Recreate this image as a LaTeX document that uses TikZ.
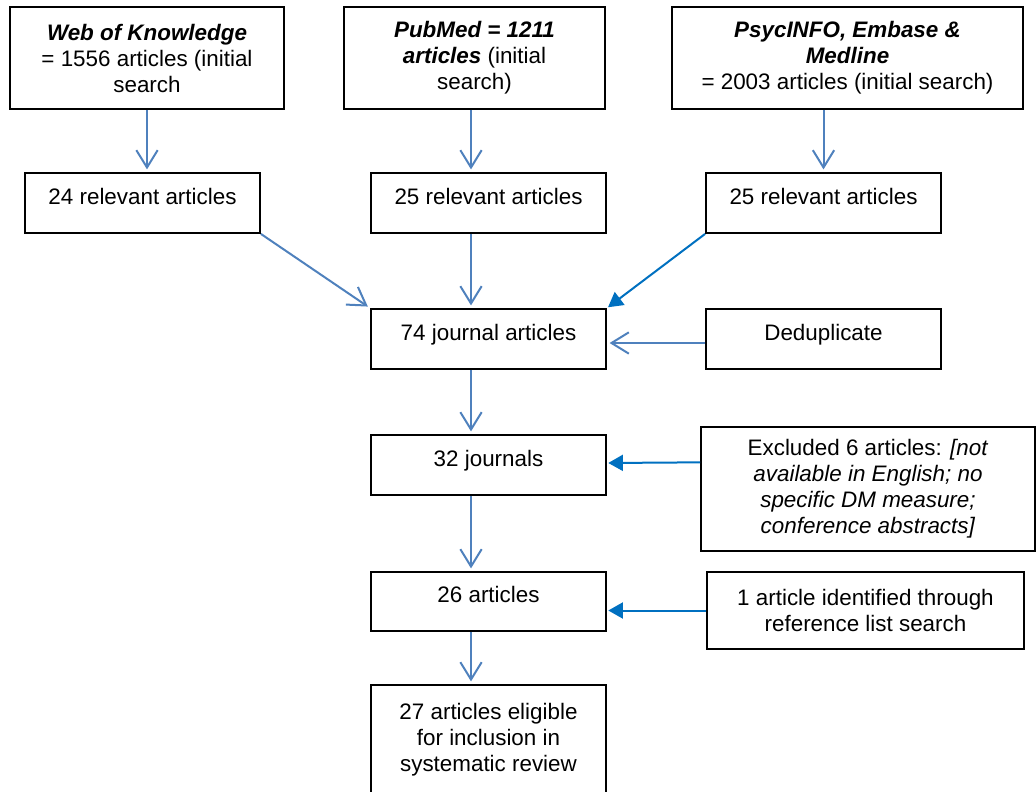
\documentclass[tikz,border=0pt]{standalone}
\usepackage{fontspec}
\setmainfont{Liberation Sans}
\usetikzlibrary{arrows.meta}
\definecolor{flowblue}{HTML}{4F81BD}
\definecolor{addblue}{HTML}{0070C0}
\begin{document}
\begin{tikzpicture}[x=0.75pt,y=-0.75pt,
    box/.style={draw,line width=1.4pt,inner sep=0pt,align=center,
      font=\fontsize{16.8}{19.5}\selectfont,minimum width=176.25pt,minimum height=45pt},
    oneline/.style={text depth=10pt},
    flow/.style={draw=flowblue,line width=1.5pt,-{Straight Barb[length=13pt,width=16pt]},shorten >=2pt},
    addin/.style={draw=addblue,line width=1.5pt,-{Triangle[length=11pt,width=12pt]},shorten >=1pt}]
  \useasboundingbox (0,0) rectangle (1036,792);
  % search results
  \node[box,minimum width=205.5pt,minimum height=76.5pt] (wok) at (147,58)
    {\textbf{\textit{Web of Knowledge}}\\= 1556 articles (initial\\search};
  \node[box,minimum width=195.75pt,minimum height=76.5pt] (pubmed) at (474.5,58)
    {\textbf{\textit{PubMed = 1211}}\\\textbf{\textit{articles}} (initial\\search)};
  \node[box,minimum width=263.25pt,minimum height=76.5pt] (psyc) at (847.5,58)
    {\textbf{\textit{PsycINFO, Embase \&}}\\\textbf{\textit{Medline}}\\= 2003 articles (initial search)};
  % relevant per database
  \node[box,oneline] (relA) at (142.5,203) {24 relevant articles};
  \node[box,oneline] (relB) at (488.5,203) {25 relevant articles};
  \node[box,oneline] (relC) at (823.5,203) {25 relevant articles};
  % main column
  \node[box,oneline] (journ74) at (488.5,339) {74 journal articles};
  \node[box,oneline] (journ32) at (488.5,465) {32 journals};
  \node[box,oneline,minimum height=44.25pt] (art26) at (488.5,601.5) {26 articles};
  \node[box,minimum height=81.75pt] (elig) at (488.5,739.5)
    {27 articles eligible\\for inclusion in\\systematic review};
  % side boxes
  \node[box,oneline] (dedup) at (823.5,339) {Deduplicate};
  \node[box,minimum width=250.5pt,minimum height=93pt] (excl) at (868,489)
    {Excluded 6 articles: \textit{[not}\\\textit{available in English; no}\\
     \textit{specific DM measure;}\\\textit{conference abstracts]}};
  \node[box,minimum width=237.75pt,minimum height=57.75pt] (ref1) at (865.5,610.5)
    {1 article identified through\\reference list search};
  \coordinate (midx) at (471,0);
  % arrows
  \draw[flow] (wok.south) -- (wok.south |- relA.north);
  \draw[flow] (pubmed.south -| midx) -- (relB.north -| midx);
  \draw[flow] (psyc.south -| relC.north) -- (relC.north);
  \draw[flow] (relA.south east) -- (journ74.north west);
  \draw[flow] (relB.south -| midx) -- (journ74.north -| midx);
  \draw[addin] (relC.south west) -- (journ74.north east);
  \draw[flow] ([yshift=-3pt]dedup.west) -- ([yshift=-3pt]journ74.east);
  \draw[flow] (journ74.south -| midx) -- (journ32.north -| midx);
  \draw[addin] ([yshift=2pt]excl.west |- journ32.east) -- ([yshift=1.5pt]journ32.east);
  \draw[flow] (journ32.south -| midx) -- (art26.north -| midx);
  \draw[addin] (ref1.west) -- (art26.east |- ref1.west);
  \draw[flow] (art26.south -| midx) -- (elig.north -| midx);
\end{tikzpicture}
\end{document}
